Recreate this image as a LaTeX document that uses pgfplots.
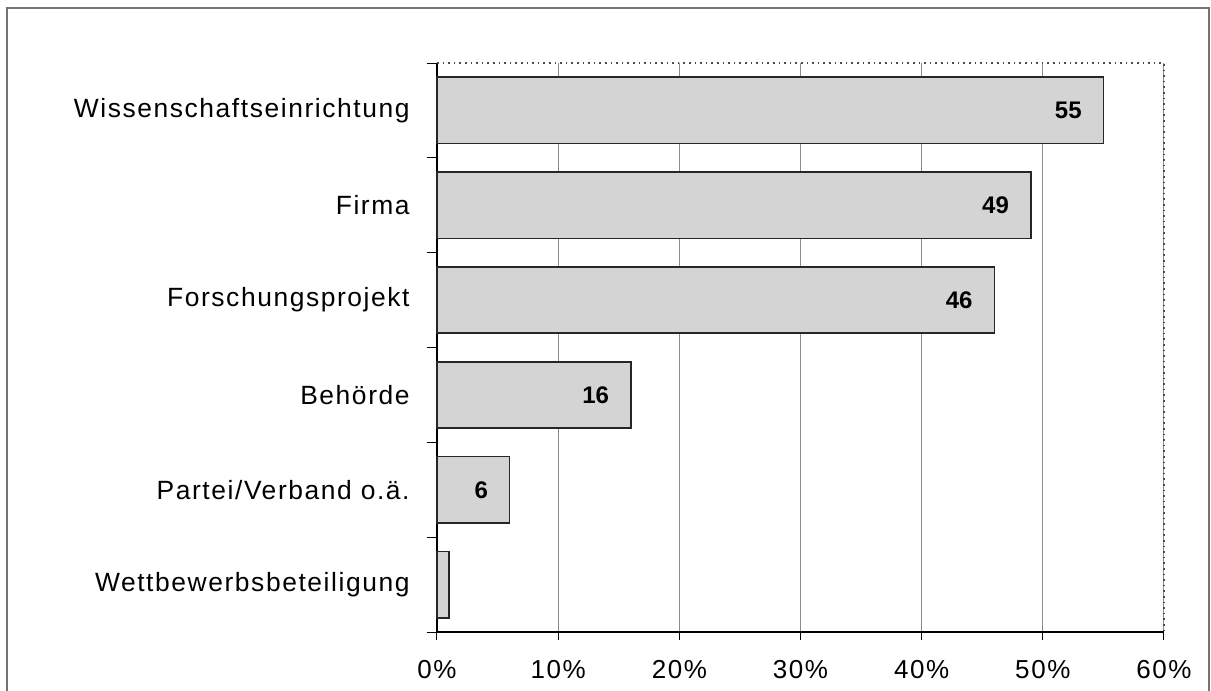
\documentclass[border=0pt]{standalone}
\usepackage{fontspec}
\setmainfont{Liberation Sans}[LetterSpace=6]
\usepackage{pgfplots}
\pgfplotsset{compat=1.18}
\definecolor{barfill}{HTML}{D4D4D4}
\begin{document}
\begin{tikzpicture}[x=1pt,y=1pt]
\useasboundingbox (0,0) rectangle (605.5,345.5);
% outer frame
\draw[black!55, line width=0.8pt] (3.5,-10) rectangle (604.5,341.5);
\begin{axis}[
  at={(218.5pt,29.5pt)}, anchor=south west,
  scale only axis, width=363.5pt, height=284.5pt,
  xmin=0, xmax=60, ymin=-0.5, ymax=5.5,
  axis x line*=bottom, axis y line*=left,
  axis line style={black, line width=0.8pt},
  xtick={0,10,...,60},
  xticklabel={\pgfmathprintnumber{\tick}\%},
  /pgf/number format/assume math mode=true,
  xmajorgrids, major grid style={black!45, line width=0.5pt},
  tick align=outside, major tick length=4pt,
  xtick style={black, line width=0.5pt},
  x tick label style={font=\fontsize{13}{15}\selectfont, anchor=north, inner sep=0pt, yshift=-10pt},
  ytick={0,...,5},
  yticklabels={Wettbewerbsbeteiligung, Partei/Verband o.ä., Behörde, Forschungsprojekt, Firma, Wissenschaftseinrichtung},
  y tick label style={font=\fontsize{13.2}{15}\selectfont, anchor=east, inner sep=0pt, xshift=-9.5pt},
  ytick style={draw=none},
  minor ytick={-0.5,0.5,...,5.5},
  minor y tick style={draw=black, line width=0.5pt},
  minor tick length=5pt,
  xbar, bar width=0.7, bar shift=0pt,
  clip=false,
]
\addplot[fill=barfill, draw=black!85, line width=0.8pt,
  nodes near coords,
  nodes near coords style={anchor=east, inner sep=0pt, xshift=-10.5pt, font=\fontsize{12}{14}\bfseries\addfontfeatures{LetterSpace=0}},
] coordinates {(55,5) (49,4) (46,3) (16,2) (6,1)};
\addplot[fill=barfill, draw=black!85, line width=0.8pt] coordinates {(1,0)};
\draw[black!70, dotted, line width=0.8pt] (rel axis cs:0,1) -- (rel axis cs:1,1) -- (rel axis cs:1,0);
\end{axis}
\end{tikzpicture}
\end{document}
